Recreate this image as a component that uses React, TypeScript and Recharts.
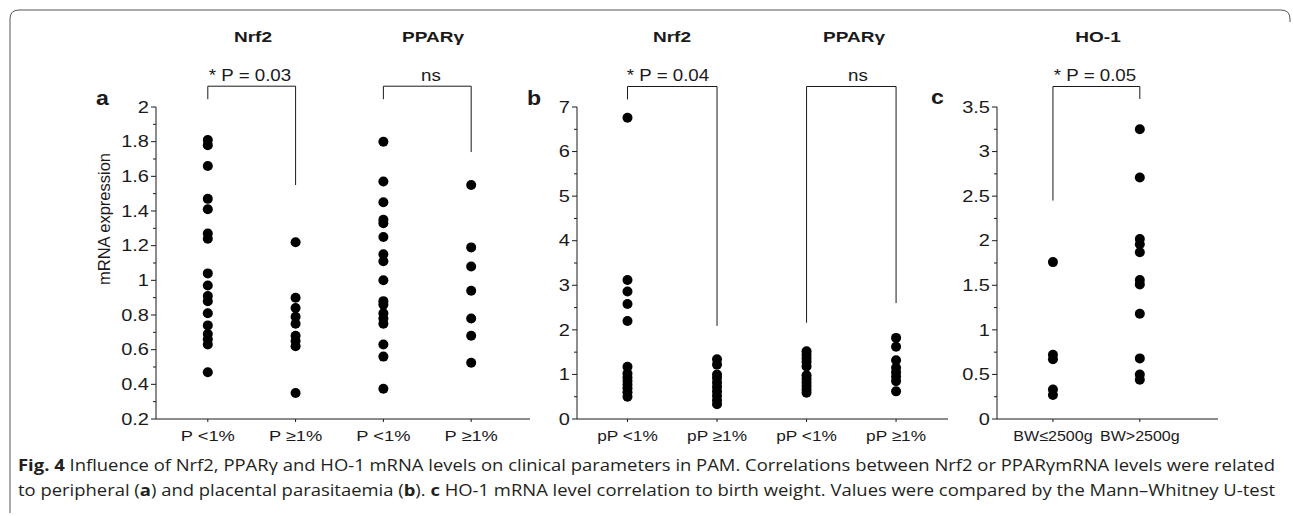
import React from "react";
import {
  ScatterChart,
  Scatter,
  XAxis,
  YAxis,
  ReferenceLine,
} from "recharts";

// panel a: peripheral parasitaemia
const aLabels = ["P <1%", "P \u22651%", "P <1%", "P \u22651%"];
const aNrf2Low = [1.81, 1.78, 1.66, 1.47, 1.41, 1.27, 1.24, 1.04, 0.97, 0.91, 0.88, 0.81, 0.74, 0.69, 0.66, 0.63, 0.47];
const aNrf2High = [1.22, 0.9, 0.84, 0.79, 0.75, 0.68, 0.65, 0.62, 0.35];
const aPparLow = [1.8, 1.57, 1.45, 1.35, 1.33, 1.25, 1.15, 1.11, 1.0, 0.88, 0.86, 0.81, 0.78, 0.75, 0.63, 0.56, 0.375];
const aPparHigh = [1.55, 1.19, 1.08, 0.94, 0.78, 0.68, 0.525];
const aMajor = [0.2, 0.4, 0.6, 0.8, 1, 1.2, 1.4, 1.6, 1.8, 2];
const aMinor = [0.3, 0.5, 0.7, 0.9, 1.1, 1.3, 1.5, 1.7, 1.9];

// panel b: placental parasitaemia
const bLabels = ["pP <1%", "pP \u22651%", "pP <1%", "pP \u22651%"];
const bNrf2Low = [6.76, 3.12, 2.86, 2.58, 2.2, 1.17, 1.02, 0.93, 0.85, 0.77, 0.69, 0.6, 0.5];
const bNrf2High = [1.34, 1.22, 1.0, 0.92, 0.82, 0.72, 0.62, 0.52, 0.42, 0.33];
const bPparLow = [1.52, 1.44, 1.36, 1.28, 1.18, 0.98, 0.9, 0.82, 0.74, 0.66, 0.59];
const bPparHigh = [1.82, 1.62, 1.32, 1.15, 1.05, 0.95, 0.85, 0.62];
const bMajor = [0, 1, 2, 3, 4, 5, 6, 7];
const bMinor = [0.5, 1.5, 2.5, 3.5, 4.5, 5.5, 6.5];

// panel c: birth weight
const cLabels = ["BW\u22642500g", "BW>2500g"];
const cLow = [1.76, 0.72, 0.67, 0.33, 0.27];
const cHigh = [3.25, 2.71, 2.02, 1.96, 1.87, 1.56, 1.51, 1.18, 0.68, 0.5, 0.44];
const cMajor = [0, 0.5, 1, 1.5, 2, 2.5, 3, 3.5];
const cMinor = [0.25, 0.75, 1.25, 1.75, 2.25, 2.75, 3.25];

// brackets: [x1, x2, top, left leg end, right leg end]
const aBrackets = [
  [1, 2, 2.12, 2.045, 1.55],
  [3, 4, 2.12, 2.045, 1.74],
];
const bBrackets = [
  [1, 2, 7.46, 7.17, 2.09],
  [3, 4, 7.46, 2.16, 2.6],
];
const cBrackets = [[1, 2, 3.73, 2.45, 3.59]];

const FONT = "'Liberation Sans', Arial, sans-serif";
const INK = "#1a1a1a";
const GAMMA = "\u03b3";

const toPts = (vals: number[], x: number) => vals.map((y) => ({ x, y }));

const Dot = (p: any) => <circle cx={p.cx} cy={p.cy} r={5} fill="#000" />;

const fmt = (v: number) => String(parseFloat(v.toFixed(2)));

// the source figure's lettering is stretched sideways, so text is scaled in x
function ST({ x, y, sx = 1.22, size = 15, anchor = "middle", bold = false, dy, children }: any) {
  return (
    <g transform={`translate(${x},${y}) scale(${sx},1)`}>
      <text x={0} y={0} dy={dy} textAnchor={anchor} fontSize={size} fontWeight={bold ? "bold" : "normal"} fontFamily={FONT} fill={INK}>
        {children}
      </text>
    </g>
  );
}

function makeYTick(majors: number[]) {
  return (props: any) => {
    const { x, y, payload } = props;
    const v = payload.value;
    const major = majors.some((m) => Math.abs(m - v) < 1e-6);
    return (
      <g>
        <line x1={x - (major ? 5 : 3)} x2={x} y1={y} y2={y} stroke={INK} strokeWidth={1} />
        {major && (
          <ST x={x - 7} y={y} dy="0.36em" anchor="end" size={16} sx={1.25}>
            {fmt(v)}
          </ST>
        )}
      </g>
    );
  };
}

function makeXTick(labels: string[], sx: number) {
  return (props: any) => {
    const { x, y, payload } = props;
    return (
      <ST x={x} y={y} dy="0.71em" size={15} sx={sx}>
        {labels[payload.value - 1] ?? ""}
      </ST>
    );
  };
}

function Bracket({ b }: { b: number[] }) {
  const [x1, x2, top, l, r] = b;
  const common = { stroke: INK, strokeWidth: 1, ifOverflow: "visible" as const };
  return (
    <>
      <ReferenceLine segment={[{ x: x1, y: top }, { x: x2, y: top }]} {...common} />
      <ReferenceLine segment={[{ x: x1, y: top }, { x: x1, y: l }]} {...common} />
      <ReferenceLine segment={[{ x: x2, y: top }, { x: x2, y: r }]} {...common} />
    </>
  );
}

interface PanelProps {
  left: number;
  width: number;
  marginLeft: number;
  marginRight: number;
  yWidth: number;
  xDomain: [number, number];
  yDomain: [number, number];
  majors: number[];
  minors: number[];
  labels: string[];
  labelScale: number;
  groups: number[][];
  brackets: number[][];
}

function Panel(p: PanelProps) {
  const ticks = [...p.majors, ...p.minors].sort((a, b) => a - b);
  const xTicks = p.labels.map((_, i) => i + 1);
  return (
    <div style={{ position: "absolute", left: p.left, top: 0 }}>
      <ScatterChart
        width={p.width}
        height={470}
        margin={{ top: 107, bottom: 11, left: p.marginLeft, right: p.marginRight }}
      >
        <XAxis
          type="number"
          dataKey="x"
          domain={p.xDomain}
          ticks={xTicks}
          allowDataOverflow
          height={40}
          tickSize={3}
          tickMargin={8}
          stroke={INK}
          tick={makeXTick(p.labels, p.labelScale)}
        />
        <YAxis
          type="number"
          dataKey="y"
          domain={p.yDomain}
          ticks={ticks}
          interval={0}
          allowDataOverflow
          width={p.yWidth}
          tickSize={0}
          tickMargin={0}
          tickLine={false}
          stroke={INK}
          tick={makeYTick(p.majors)}
        />
        {p.groups.map((g, i) => (
          <Scatter key={i} data={toPts(g, i + 1)} shape={Dot} isAnimationActive={false} />
        ))}
        {p.brackets.map((b, i) => (
          <Bracket key={i} b={b} />
        ))}
      </ScatterChart>
    </div>
  );
}

export default function App() {
  return (
    <div style={{ position: "absolute", left: 0, top: 0, width: 1293, height: 516, background: "#fff", overflow: "hidden" }}>
      <svg width={1293} height={516} style={{ position: "absolute", left: 0, top: 0 }}>
        <path d="M 10 513 L 10 19 Q 10 10 19 10 L 1281 10 Q 1290 10 1290 19 L 1290 22" fill="none" stroke="#555" strokeWidth={1} />
        {/* gene headers */}
        <ST x={253} y={42} bold sx={1.27}>Nrf2</ST>
        <ST x={433} y={42} bold sx={1.27}>{"PPAR" + GAMMA}</ST>
        <ST x={672} y={42} bold sx={1.27}>Nrf2</ST>
        <ST x={854} y={42} bold sx={1.27}>{"PPAR" + GAMMA}</ST>
        <ST x={1098} y={42} bold sx={1.27}>HO-1</ST>
        {/* significance */}
        <ST x={250} y={81} size={16} sx={1.17}>* P = 0.03</ST>
        <ST x={431} y={81} size={16} sx={1.17}>ns</ST>
        <ST x={668} y={81} size={16} sx={1.17}>* P = 0.04</ST>
        <ST x={858} y={81} size={16} sx={1.17}>ns</ST>
        <ST x={1095} y={81} size={16} sx={1.17}>* P = 0.05</ST>
        {/* panel letters */}
        <ST x={96} y={105} size={21} bold anchor="start" sx={1.1}>a</ST>
        <ST x={527} y={105} size={21} bold anchor="start" sx={1.1}>b</ST>
        <ST x={931} y={104} size={21} bold anchor="start" sx={1.1}>c</ST>
        <text fontFamily={FONT} fill={INK} fontSize={16.5} textAnchor="middle" transform="translate(110,219) rotate(-90)">
          mRNA expression
        </text>
        <g fontFamily="'Open Sans', 'Noto Sans', sans-serif" fontSize={16} fill="#231f20">
          <text x={18} y={471} textLength={1257} lengthAdjust="spacingAndGlyphs">
            <tspan fontWeight="bold">Fig. 4</tspan>
            {"  Influence of Nrf2, PPAR\u03b3 and HO-1 mRNA levels on clinical parameters in PAM. Correlations between Nrf2 or PPAR\u03b3mRNA levels were related"}
          </text>
          <text x={18} y={496} textLength={1257} lengthAdjust="spacingAndGlyphs">
            {"to peripheral ("}
            <tspan fontWeight="bold">a</tspan>
            {") and placental parasitaemia ("}
            <tspan fontWeight="bold">b</tspan>
            {"). "}
            <tspan fontWeight="bold">c</tspan>
            {" HO-1 mRNA level correlation to birth weight. Values were compared by the Mann\u2013Whitney U-test"}
          </text>
        </g>
      </svg>
      <Panel
        left={0}
        width={540}
        marginLeft={106}
        marginRight={10}
        yWidth={50}
        xDomain={[0.41, 4.67]}
        yDomain={[0.2, 2]}
        majors={aMajor}
        minors={aMinor}
        labels={aLabels}
        labelScale={1.22}
        groups={[aNrf2Low, aNrf2High, aPparLow, aPparHigh]}
        brackets={aBrackets}
      />
      <Panel
        left={540}
        width={420}
        marginLeft={7}
        marginRight={12}
        yWidth={30}
        xDomain={[0.436, 4.58]}
        yDomain={[0, 7]}
        majors={bMajor}
        minors={bMinor}
        labels={bLabels}
        labelScale={1.15}
        groups={[bNrf2Low, bNrf2High, bPparLow, bPparHigh]}
        brackets={bBrackets}
      />
      <Panel
        left={960}
        width={333}
        marginLeft={2}
        marginRight={75}
        yWidth={35}
        xDomain={[0.356, 2.9]}
        yDomain={[0, 3.5]}
        majors={cMajor}
        minors={cMinor}
        labels={cLabels}
        labelScale={1.07}
        groups={[cLow, cHigh]}
        brackets={cBrackets}
      />
    </div>
  );
}
